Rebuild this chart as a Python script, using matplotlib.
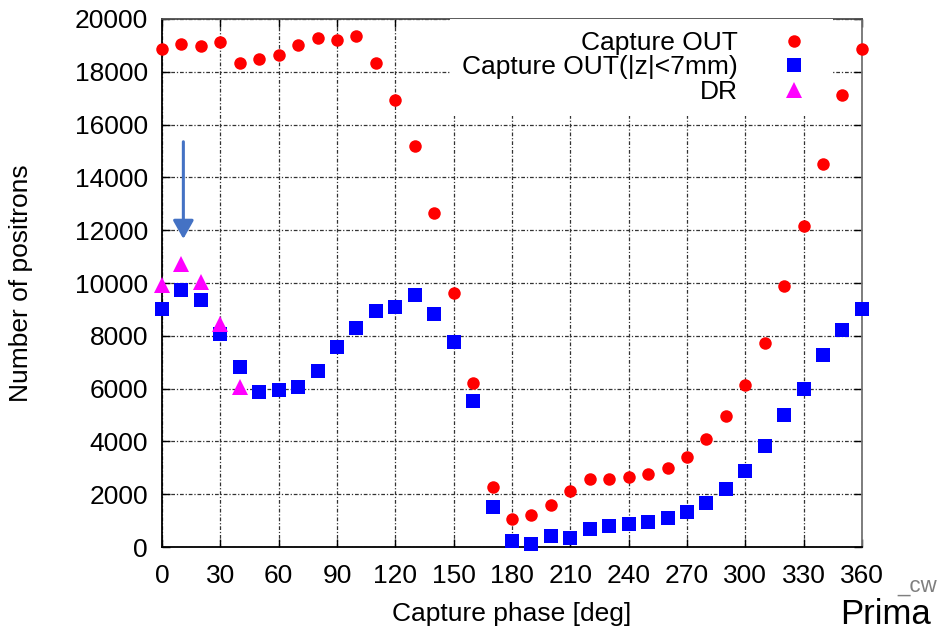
import matplotlib
matplotlib.use('Agg')
from matplotlib import pyplot as plt

plt.rcParams['font.family'] = ['Liberation Sans', 'DejaVu Sans']

# capture phase [deg]
phase = list(range(0, 361, 10))

capture_out = [18860, 19050, 18990, 19140, 18330, 18500, 18650, 19015, 19290, 19215,
               19355, 18330, 16930, 15190, 12650, 9640, 6225, 2260, 1050, 1210,
               1600, 2130, 2560, 2590, 2660, 2765, 3005, 3400, 4100, 4960,
               6125, 7730, 9900, 12170, 14510, 17130, 18860]

capture_out_z = [9000, 9735, 9355, 8070, 6830, 5870, 5950, 6060, 6680, 7590,
                 8280, 8940, 9090, 9545, 8825, 7780, 5520, 1500, 240, 115,
                 430, 340, 695, 810, 885, 960, 1110, 1340, 1655, 2185,
                 2865, 3840, 5010, 5985, 7285, 8220, 9015]

dr_phase = [0, 10, 20, 30, 40]
dr = [9925, 10720, 10050, 8450, 6070]

arrow_x = 11
arrow_from = 15350
arrow_to = 11670

fig = plt.figure(figsize=(9.45, 6.31), dpi=100)
ax = fig.add_axes([0.1714, 0.1331, 0.7407, 0.8368])

ax.plot(phase, capture_out, 'o', color='#ff0000', markersize=9, markeredgewidth=0,
        label='Capture OUT', clip_on=False, zorder=5)
ax.plot(phase, capture_out_z, 's', color='#0000ff', markersize=9.5, markeredgewidth=0,
        label='Capture OUT(|z|<7mm)', clip_on=False, zorder=5)
ax.plot(dr_phase, dr, '^', color='#ff00ff', markersize=11, markeredgewidth=0,
        label='DR', clip_on=False, zorder=6)

ax.annotate('', xy=(arrow_x, arrow_to), xytext=(arrow_x, arrow_from),
            arrowprops=dict(arrowstyle='-|>,head_width=0.45,head_length=0.8',
                            color='#4472c4', lw=2.2, mutation_scale=14,
                            shrinkA=0, shrinkB=0), zorder=7)

ax.set_xlim(0, 360)
ax.set_ylim(0, 20000)
ax.set_xticks(range(0, 361, 30))
ax.set_yticks(range(0, 20001, 2000))
ax.tick_params(direction='in', length=6, width=1, top=True, right=True,
               labelsize=19, pad=10)
ax.tick_params(axis='x', pad=12)

ax.grid(True, color='0.2', linestyle=(0, (3, 1.5, 1, 1.5)), linewidth=0.9)
ax.set_axisbelow(True)
for s in ax.spines.values():
    s.set_linewidth(1.3)
ax.spines['top'].set_color('0.3')
ax.spines['right'].set_color('0.45')

ax.set_xlabel('Capture phase [deg]', fontsize=19, labelpad=10)
ax.set_ylabel('Number of positrons', fontsize=19, labelpad=30)

leg = ax.legend(loc='upper right', bbox_to_anchor=(0.958, 1.0), borderaxespad=0,
                fontsize=19, markerfirst=False, handlelength=2.0,
                handletextpad=1.15, labelspacing=0.02, borderpad=0.45,
                frameon=True, fancybox=False, framealpha=1.0,
                facecolor='white', edgecolor='none')
for t in leg.get_texts():
    t.set_ha('right')

# fragments of the slide around the chart
fig.text(897 / 945, 1 - 592 / 631, '_cw', fontsize=16, color='#7f7f7f', va='baseline')
fig.text(840 / 945, 1 - 598 / 631, 'Prima', fontsize=25, color='black', va='top')

fig.savefig('out.png', dpi=100)
